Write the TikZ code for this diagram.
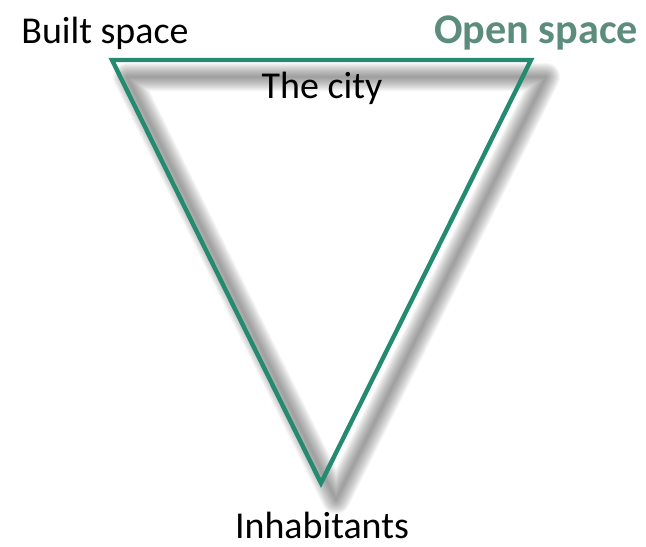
\documentclass[tikz,border=0pt]{standalone}
\usepackage{fontspec}
\setmainfont{Carlito}
\usepackage{xcolor}
\definecolor{cityteal}{RGB}{36,138,112}
\definecolor{opengreen}{RGB}{92,140,124}
\usetikzlibrary{positioning}

\begin{document}
\begin{tikzpicture}[x=0.025cm, y=-0.025cm,
        edge/.style={draw=cityteal, line width=0.11cm, line join=miter},
        blur/.style={draw=black!80, opacity=0.045, line join=round},
        label/.style={anchor=base, inner sep=0pt, font=\fontsize{27}{30}\selectfont}]
    \useasboundingbox (0,0) rectangle (646,547);

    \coordinate (built) at (112,60);
    \coordinate (open) at (531,60);
    \coordinate (people) at (321,483);

    % soft shadow
    \foreach \w in {1,...,14}
        \draw [blur, line width=\w*0.05cm]
            ([xshift=0.375cm, yshift=-0.425cm]built) -- ([xshift=0.375cm, yshift=-0.425cm]open)
            -- ([xshift=0.375cm, yshift=-0.425cm]people) -- cycle;

    \draw [edge] (built) -- (open) -- (people) -- cycle;

    \node [label] (builtlbl) at (105,43) {Built space};
    \node [label, text=opengreen, font=\fontsize{30}{32}\selectfont\bfseries] (openlbl) at (536,43) {Open space};
    \node [label] (city) at (322,98) {The city};
    \node [label] (inhab) at (322,538) {Inhabitants};
\end{tikzpicture}
\end{document}
